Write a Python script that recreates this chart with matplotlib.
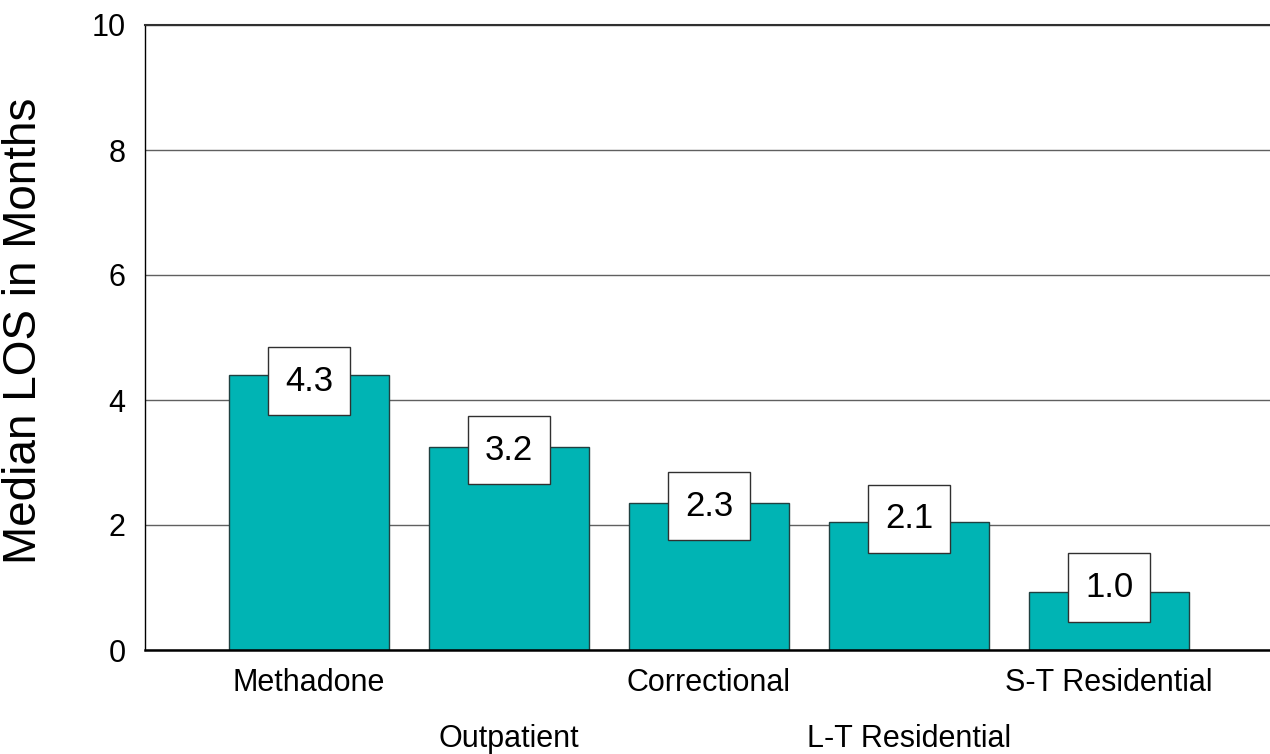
import matplotlib
matplotlib.use("Agg")
import matplotlib.pyplot as plt
from matplotlib.patches import Rectangle
from matplotlib.ticker import MultipleLocator, FixedLocator

plt.rcParams['font.family'] = ['Liberation Sans', 'DejaVu Sans']

categories = ['Methadone', 'Outpatient', 'Correctional', 'L-T Residential', 'S-T Residential']
bar_heights = [4.4, 3.25, 2.36, 2.05, 0.93]     # bar tops as drawn
label_values = [4.3, 3.2, 2.3, 2.1, 1.0]        # printed values
ylabel = 'Median LOS in Months'

fig = plt.figure(figsize=(12.7, 7.54), dpi=100)
ax = fig.add_axes([145 / 1270, 104 / 754, 1125 / 1270, 625 / 754])

x = list(range(len(categories)))
ax.bar(x, bar_heights, width=0.8, color='#00B4B4', edgecolor='#204040', linewidth=1, zorder=2)

# white value boxes centred on the printed value
box_w, box_h = 0.41, 1.09
for xi, v in zip(x, label_values):
    ax.add_patch(Rectangle((xi - box_w / 2, v - box_h / 2), box_w, box_h,
                           facecolor='white', edgecolor='#303030', linewidth=1, zorder=3))
    ax.text(xi, v, f'{v:.1f}', ha='center', va='center', fontsize=25, zorder=4)

ax.set_xlim(-0.82, 4.805)
ax.set_ylim(0, 10)
ax.yaxis.set_major_locator(MultipleLocator(2))
ax.grid(axis='y', color='#606060', linewidth=1, zorder=0)

# staggered category labels: even ones on first row, odd ones lower
ax.xaxis.set_major_locator(FixedLocator(x[0::2]))
ax.set_xticklabels(categories[0::2])
ax.xaxis.set_minor_locator(FixedLocator(x[1::2]))
ax.set_xticklabels(categories[1::2], minor=True)
ax.tick_params(axis='x', which='major', length=0, pad=13, labelsize=22)
ax.tick_params(axis='x', which='minor', length=0, pad=53, labelsize=22)
ax.tick_params(axis='y', length=0, pad=14, labelsize=22)

ax.set_ylabel(ylabel, fontsize=33)
ax.yaxis.set_label_coords(-0.088, 0.51)

ax.spines['right'].set_visible(False)
ax.spines['top'].set_color('#303030')
ax.spines['top'].set_linewidth(1.5)
ax.spines['left'].set_linewidth(1)
ax.spines['bottom'].set_linewidth(1.8)

plt.savefig('out.png', dpi=100)
